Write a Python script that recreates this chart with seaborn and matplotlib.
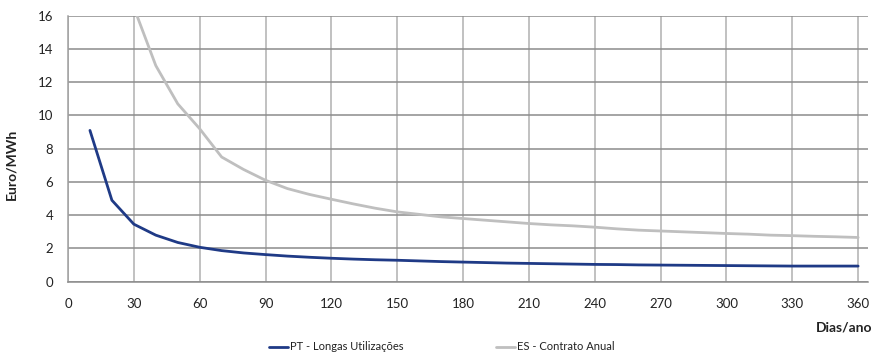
import matplotlib
matplotlib.use("Agg")
import matplotlib.pyplot as plt
import seaborn as sns
import pandas as pd

# Days of use per year
days_pt = list(range(10, 370, 10))
days_es = list(range(30, 370, 10))

# Tariff cost (Euro/MWh)
pt_longas = [9.1, 4.9, 3.46, 2.8, 2.36, 2.07, 1.87, 1.73, 1.63, 1.54,
             1.47, 1.41, 1.36, 1.32, 1.29, 1.25, 1.21, 1.18, 1.15, 1.12,
             1.10, 1.08, 1.06, 1.04, 1.03, 1.01, 1.00, 0.99, 0.98, 0.97,
             0.96, 0.95, 0.94, 0.94, 0.94, 0.94]
es_anual = [16.5, 13.0, 10.7, 9.2, 7.5, 6.75, 6.1, 5.6, 5.25, 4.96,
            4.68, 4.42, 4.2, 4.05, 3.9, 3.8, 3.7, 3.6, 3.5, 3.42,
            3.36, 3.28, 3.18, 3.1, 3.05, 3.0, 2.95, 2.9, 2.86, 2.8,
            2.77, 2.73, 2.7, 2.66]

series_names = ["PT - Longas Utilizações", "ES - Contrato Anual"]
x_ticks = list(range(0, 390, 30))
y_ticks = list(range(0, 18, 2))

sns.set_style("white")
plt.rcParams["font.family"] = ["Lato", "DejaVu Sans"]

df_pt = pd.DataFrame({"dias": days_pt, "valor": pt_longas})
df_es = pd.DataFrame({"dias": days_es, "valor": es_anual})

fig = plt.figure(figsize=(8.75, 3.53), dpi=100)
ax = fig.add_axes([68 / 875, 1 - 281.7 / 353, 800 / 875, 266 / 353])

sns.lineplot(data=df_pt, x="dias", y="valor", ax=ax, color="#1F3A86",
             lw=2.0, label=series_names[0])
sns.lineplot(data=df_es, x="dias", y="valor", ax=ax, color="#BFBFBF",
             lw=2.0, label=series_names[1])

ax.set_xlim(0, 364.5)
ax.set_ylim(0, 16)
ax.set_xticks(x_ticks)
ax.set_yticks(y_ticks)
ax.set_xticklabels([str(t) for t in x_ticks], fontsize=9.5)
ax.set_yticklabels([str(t) for t in y_ticks], fontsize=9.5)

ax.yaxis.grid(True, color="#8C8C8C", lw=1.1)
ax.xaxis.grid(True, color="#B0B0B0", lw=1.1)
ax.set_axisbelow(True)

for side in ("top", "right"):
    ax.spines[side].set_visible(False)
ax.spines["left"].set_color("#A0A0A0")
ax.spines["bottom"].set_color("#8C8C8C")
ax.spines["left"].set_linewidth(1.1)
ax.spines["bottom"].set_linewidth(1.1)
ax.tick_params(axis="both", direction="out", length=4, width=1.0,
               color="#A0A0A0", labelcolor="#222222")
ax.tick_params(axis="x", pad=7.5)
ax.tick_params(axis="y", pad=6.5)

ax.set_xlabel("")
ax.set_ylabel("Euro/MWh", fontsize=10, fontweight="bold", color="#222222")
ax.yaxis.set_label_coords(-0.063, 0.44)
fig.text(872 / 875, 1 - 327 / 353, "Dias/ano", ha="right", va="center",
         fontsize=10, fontweight="bold", color="#222222")

handles, labels = ax.get_legend_handles_labels()
ax.get_legend().remove()
fig.legend(handles, labels, loc="center", bbox_to_anchor=(0.505, 1 - 347 / 353),
           ncol=2, frameon=False, fontsize=8, handlelength=1.7,
           handletextpad=0.15, columnspacing=8.4, labelcolor="#222222")

fig.savefig("out.png", dpi=100)
